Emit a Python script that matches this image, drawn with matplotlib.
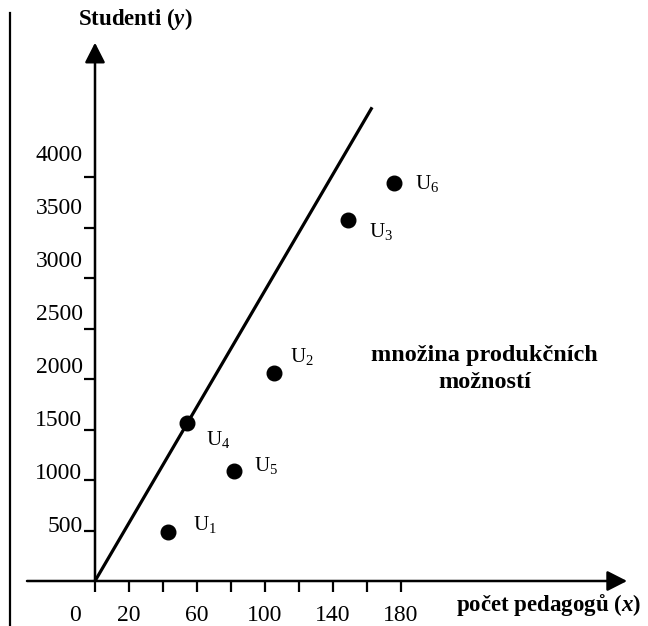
import matplotlib.pyplot as plt
from matplotlib.lines import Line2D

plt.rcParams['font.family'] = ['Liberation Serif', 'DejaVu Serif']
plt.rcParams['mathtext.fontset'] = 'custom'
plt.rcParams['mathtext.rm'] = 'Liberation Serif'
plt.rcParams['mathtext.it'] = 'Liberation Serif:italic:bold'
plt.rcParams['mathtext.bf'] = 'Liberation Serif:bold'

# univerzity U1..U6: pocet pedagogu (x), studenti (y)
names = ["U$_1$", "U$_2$", "U$_3$", "U$_4$", "U$_5$", "U$_6$"]
pedagogove = [43, 105, 149, 54, 82, 176]
studenti = [485, 2060, 3575, 1565, 1090, 3940]

# hranice produkcnich moznosti
hranice_x = [0, 163]
hranice_y = [0, 4690]

x_ticks = [0, 20, 40, 60, 80, 100, 120, 140, 160, 180]
x_labels = [0, 20, 60, 100, 140, 180]
y_ticks = [500, 1000, 1500, 2000, 2500, 3000, 3500, 4000]

# posun popisku bodu (pixely)
label_off = [(37, 8), (28, 16), (33, -12), (31, -17), (32, 5), (33, 0)]

fig = plt.figure(figsize=(6.48, 6.26), dpi=100)
ax = fig.add_axes([0, 0, 1, 1])
# 1.7 px na pedagoga, 0.101 px na studenta, pocatek v (95, 581)
ax.set_xlim(-95 / 1.7, (648 - 95) / 1.7)
ax.set_ylim((581 - 626) / 0.101, 581 / 0.101)

for s in ax.spines.values():
    s.set_visible(False)
ax.spines['left'].set_position(('data', 0))
ax.spines['bottom'].set_position(('data', 0))

# osy se sipkami
arrow = dict(arrowstyle='-|>,head_length=0.55,head_width=0.28', color='black',
             lw=1.8, shrinkA=0, shrinkB=0, mutation_scale=22)
ax.annotate("", xy=(313, 0), xytext=(-40, 0), arrowprops=arrow, annotation_clip=False)
ax.annotate("", xy=(0, 5330), xytext=(0, 0), arrowprops=arrow, annotation_clip=False)

# znacky na osach
ax.xaxis.remove_overlapping_locs = False
ax.yaxis.remove_overlapping_locs = False
ax.set_xticks(x_ticks, labels=[""] * len(x_ticks))
ax.set_xticks([v if v else -12 for v in x_labels], labels=[str(v) for v in x_labels], minor=True)
ax.set_yticks(y_ticks, labels=[""] * len(y_ticks))
ax.set_yticks([v + 40 + 0.05 * v for v in y_ticks], labels=[str(v) for v in y_ticks], minor=True)
ax.tick_params(which='major', direction='out', length=8, width=1.6, color='black')
ax.tick_params(which='minor', length=0, labelsize=17)
ax.tick_params(axis='x', which='minor', pad=17)
ax.tick_params(axis='y', which='minor', pad=9)

ax.plot(hranice_x, hranice_y, color='black', lw=2.3, solid_capstyle='butt')
ax.plot(pedagogove, studenti, 'o', color='black', ms=10.5)

for n, x, y, (dx, dy) in zip(names, pedagogove, studenti, label_off):
    ax.annotate(n, (x, y), xytext=(dx, dy), textcoords='offset pixels',
                ha='center', va='center', fontsize=15)

ax.text(24, 5560, "Studenti ($\\mathit{y}$)", ha='center', va='center',
        fontsize=16.5, fontweight='bold')
ax.text(267, -235, "počet pedagogů ($\\mathit{x}$)", ha='center', va='center',
        fontsize=16.5, fontweight='bold')
ax.text(229, 2100, "množina produkčních\nmožností", ha='center', va='center',
        fontsize=17.5, fontweight='bold', linespacing=1.35)

# okraj stranky ze skenu
fig.add_artist(Line2D([0.0154, 0.0154], [0, 0.979], transform=fig.transFigure,
                      color='black', lw=1.6))

fig.savefig("out.png", dpi=100)
